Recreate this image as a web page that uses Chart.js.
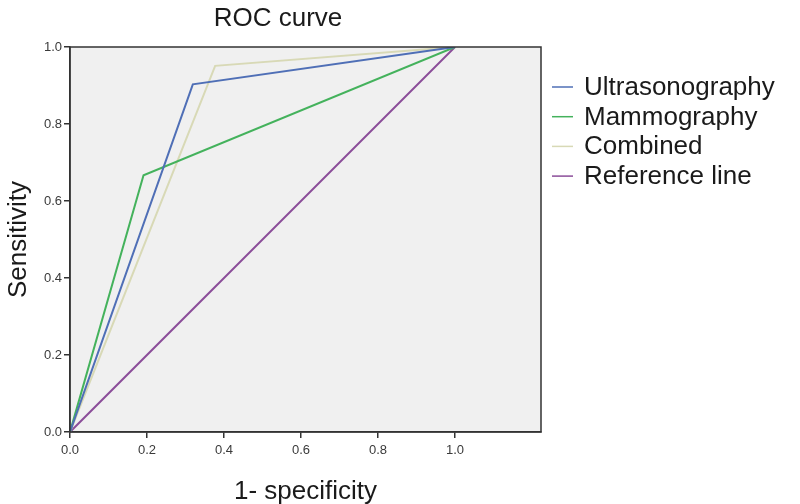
<!DOCTYPE html>
<html>
<head>
<meta charset="utf-8">
<script src="https://cdn.jsdelivr.net/npm/chart.js@4"></script>
<style>
    html, body { margin: 0; padding: 0; background: #fff; }
    #wrap { width: 800px; height: 504px; }
</style>
</head>
<body>
<div id="wrap"><canvas id="roc" width="800" height="504"></canvas></div>
<script>
// values
const seriesNames = ["Ultrasonography", "Mammography", "Combined", "Reference line"];
const seriesColors = ["#4f6fb6", "#44b25c", "#d8d9b6", "#8b4d99"];

const ultraFpr = [0, 0.319, 1];
const ultraSens = [0, 0.903, 1];
const mammoFpr = [0, 0.191, 1];
const mammoSens = [0, 0.667, 1];
const combFpr = [0, 0.377, 1];
const combSens = [0, 0.951, 1];
const refFpr = [0, 1];
const refSens = [0, 1];

const xTickValues = [0, 0.2, 0.4, 0.6, 0.8, 1.0];
const yTickValues = [0, 0.2, 0.4, 0.6, 0.8, 1.0];

const FONT = "'Liberation Sans', Arial, sans-serif";

function pts(xs, ys) {
    return xs.map((x, i) => ({ x: x, y: ys[i] }));
}

const allX = [ultraFpr, mammoFpr, combFpr, refFpr];
const allY = [ultraSens, mammoSens, combSens, refSens];

const datasets = seriesNames.map((name, i) => ({
    label: name,
    data: pts(allX[i], allY[i]),
    borderColor: seriesColors[i],
    backgroundColor: seriesColors[i],
    borderWidth: 2,
    showLine: true,
    pointRadius: 0,
    tension: 0
}));

// grey plot background, frame, title and legend drawn by hand
const decor = {
    id: "decor",
    beforeDraw(chart) {
        const { ctx, chartArea: a } = chart;
        ctx.save();
        ctx.fillStyle = "#fff";
        ctx.fillRect(0, 0, chart.width, chart.height);
        ctx.fillStyle = "#f0f0f0";
        ctx.fillRect(a.left, a.top, a.right - a.left, a.bottom - a.top);
        ctx.restore();
    },
    afterDraw(chart) {
        const { ctx, chartArea: a } = chart;
        ctx.save();
        ctx.strokeStyle = "#333";
        ctx.lineWidth = 1.5;
        ctx.strokeRect(a.left, a.top, a.right - a.left, a.bottom - a.top);

        ctx.fillStyle = "#1a1a1a";
        ctx.font = "26px " + FONT;
        ctx.textAlign = "center";
        ctx.textBaseline = "alphabetic";
        ctx.fillText("ROC curve", 278, 26);

        ctx.textAlign = "left";
        seriesNames.forEach((name, i) => {
            const base = 95 + i * 29.7;
            ctx.strokeStyle = seriesColors[i];
            ctx.lineWidth = 1.5;
            ctx.beginPath();
            ctx.moveTo(552, base - 8);
            ctx.lineTo(573, base - 8);
            ctx.stroke();
            ctx.fillStyle = "#1a1a1a";
            ctx.fillText(name, 584, base);
        });
        ctx.restore();
    }
};

function keepTicks(values) {
    return function (scale) {
        scale.ticks = values.map(v => ({ value: v }));
    };
}

new Chart(document.getElementById("roc"), {
    type: "scatter",
    data: { datasets: datasets },
    options: {
        responsive: false,
        animation: false,
        devicePixelRatio: 1,
        layout: { padding: { top: 47, right: 259, left: 0, bottom: 0 } },
        plugins: {
            legend: { display: false },
            title: { display: false },
            tooltip: { enabled: false }
        },
        scales: {
            x: {
                type: "linear",
                min: 0,
                max: 1.2234,
                afterBuildTicks: keepTicks(xTickValues),
                afterFit(scale) { scale.height = 72; },
                border: { display: true, color: "#333", width: 1.5 },
                grid: { drawOnChartArea: false, color: "#333", tickLength: 6, lineWidth: 1.5 },
                ticks: {
                    color: "#3a3a3a",
                    font: { family: FONT, size: 13 },
                    padding: 5,
                    maxRotation: 0,
                    callback: v => Number(v).toFixed(1)
                },
                title: {
                    display: true,
                    text: "1- specificity",
                    color: "#1a1a1a",
                    font: { family: FONT, size: 26 },
                    padding: { top: 0, bottom: -3 }
                }
            },
            y: {
                type: "linear",
                min: 0,
                max: 1,
                afterBuildTicks: keepTicks(yTickValues),
                afterFit(scale) { scale.width = 70; },
                border: { display: true, color: "#333", width: 1.5 },
                grid: { drawOnChartArea: false, color: "#333", tickLength: 6, lineWidth: 1.5 },
                ticks: {
                    color: "#3a3a3a",
                    font: { family: FONT, size: 13 },
                    padding: 2,
                    callback: v => Number(v).toFixed(1)
                },
                title: {
                    display: true,
                    text: "Sensitivity",
                    color: "#1a1a1a",
                    font: { family: FONT, size: 26 },
                    padding: { top: 3, bottom: 0 }
                }
            }
        }
    },
    plugins: [decor]
});
</script>
</body>
</html>
